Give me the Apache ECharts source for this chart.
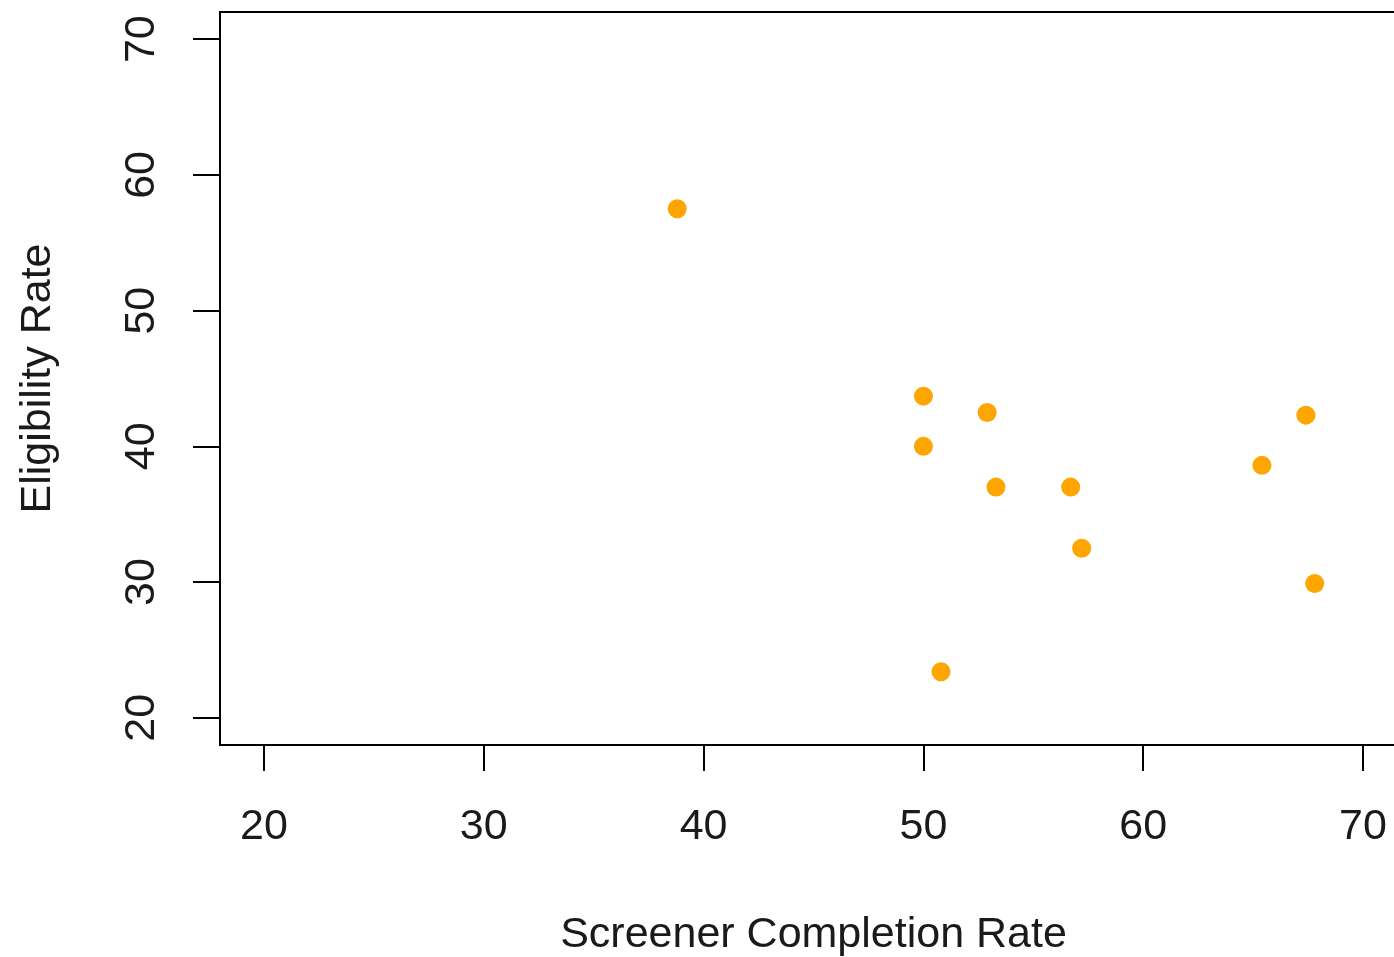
<!DOCTYPE html>
<html>
<head>
<meta charset="UTF-8">
<title>Eligibility vs Screener Completion</title>
<script src="https://cdn.jsdelivr.net/npm/echarts@6/dist/echarts.min.js"></script>
<style>
  html, body { margin: 0; padding: 0; background: #fff; overflow: hidden; }
  #chart { width: 1420px; height: 957px; }
</style>
</head>
<body>
<div id="chart"></div>
<script>
// screener completion rate (x) and eligibility rate (y), one entry per site
var completionRate = [38.8, 50.0, 50.0, 52.9, 53.3, 56.7, 57.2, 50.8, 65.4, 67.4, 67.8];
var eligibilityRate = [57.5, 43.7, 40.0, 42.5, 37.0, 37.0, 32.5, 23.4, 38.6, 42.3, 29.9];
var xTicks = [20, 30, 40, 50, 60, 70];
var yTicks = [20, 30, 40, 50, 60, 70];

var points = [];
for (var i = 0; i < completionRate.length; i++) {
  points.push([completionRate[i], eligibilityRate[i]]);
}

var font = '"Liberation Sans", Arial, sans-serif';
// plot box runs a little past the right edge of the window, like the original
var chart = echarts.init(document.getElementById('chart'));
chart.setOption({
  animation: false,
  grid: {
    left: 220, top: 12, width: 1187, height: 733,
    outerBoundsMode: 'none',
    show: true, borderColor: '#000', borderWidth: 2, backgroundColor: 'transparent'
  },
  xAxis: {
    type: 'value', min: 18, max: 72,
    name: 'Screener Completion Rate', nameLocation: 'middle', nameGap: 169,
    nameTextStyle: { fontFamily: font, fontSize: 43, color: '#1a1a1a' },
    axisLine: { show: true, lineStyle: { color: '#000', width: 2 } },
    axisTick: { show: true, length: 26, customValues: xTicks, lineStyle: { color: '#000', width: 2 } },
    axisLabel: { customValues: xTicks, margin: 61, fontFamily: font, fontSize: 43, color: '#1a1a1a' },
    splitLine: { show: false }
  },
  yAxis: {
    type: 'value', min: 18, max: 72,
    name: 'Eligibility Rate', nameLocation: 'middle', nameGap: 160, nameRotate: 90,
    nameTextStyle: { fontFamily: font, fontSize: 43, color: '#1a1a1a' },
    axisLine: { show: true, lineStyle: { color: '#000', width: 2 } },
    axisTick: { show: true, length: 27, customValues: yTicks, lineStyle: { color: '#000', width: 2 } },
    axisLabel: { customValues: yTicks, rotate: 90, margin: 56, fontFamily: font, fontSize: 43, color: '#1a1a1a' },
    splitLine: { show: false }
  },
  series: [{
    type: 'scatter',
    data: points,
    symbol: 'circle',
    symbolSize: 19,
    itemStyle: { color: '#FFA500', opacity: 1 }
  }]
});
</script>
</body>
</html>
